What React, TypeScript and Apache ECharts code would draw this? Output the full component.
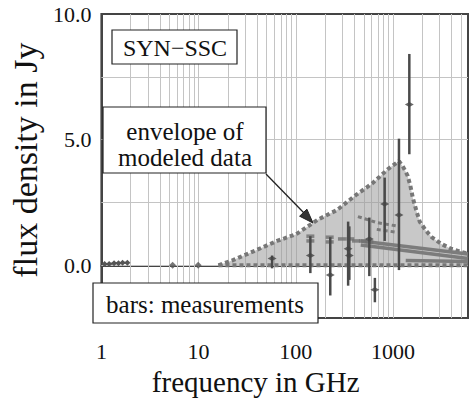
import React, { useEffect, useRef } from "react";
import * as echarts from "echarts";

// Envelope of modeled data (upper boundary); lower boundary lies at 0
const envFreq = [16, 22, 38, 64, 101, 169, 265, 416, 612, 894, 1150, 1285, 1410, 1504, 1600, 1750, 1880, 2200, 2500, 3150, 3950, 4960, 5900];
const envFlux = [0, 0.19, 0.58, 0.97, 1.24, 1.82, 2.2, 2.8, 3.26, 3.84, 4.15, 3.88, 3.57, 3.18, 2.67, 2.13, 1.74, 1.36, 1.12, 0.85, 0.66, 0.54, 0.47];
const envLowFreq = [16, 5900];
const envLowFlux = [0, 0];

// Measurements with error bars
const measFreq = [57, 141, 226, 345, 355, 570, 650, 820, 1150, 1470];
const measFlux = [0.27, 0.39, -0.39, 0.66, 0.39, 1.05, -0.97, 2.44, 2.0, 6.4];
const measLow = [-0.12, -0.31, -1.2, -0.81, -0.58, -0.43, -1.47, 0.97, -0.19, 4.42];
const measHigh = [0.39, 1.16, 1.12, 1.74, 1.55, 1.9, -0.5, 3.49, 5.04, 8.41];

// Low-frequency measurements (no visible bars)
const lowFreq = [1.08, 1.2, 1.35, 1.5, 1.65, 1.85];
const lowFlux = [0.05, 0.05, 0.08, 0.08, 0.1, 0.1];
const singleFreq = [5.4, 9.9];
const singleFlux = [0.0, 0.0];

// Model points (dash markers) inside the envelope
const modelPtFreq = [141, 141, 223, 223, 298, 363, 416, 490, 570];
const modelPtFlux = [1.16, 0.97, 1.12, 0.93, 1.05, 1.05, 0.97, 0.97, 0.93];

// Individual model curves
const modelAFreq = [435, 680, 1150];
const modelAFlux = [1.94, 1.7, 1.55];
const modelBFreq = [680, 1070];
const modelBFlux = [1.43, 1.32];
const modelCFreq = [465, 5900];
const modelCFlux = [0.97, 0.45];
const modelDFreq = [465, 5900];
const modelDFlux = [0.81, 0.27];
const modelEFreq = [1350, 5900];
const modelEFlux = [0.19, 0.15];

const yTickLabels = [0, 5, 10];
const yGrid = [0, 2.5, 5, 7.5];
const decades = [1, 10, 100, 1000];

const FONT = "Liberation Serif";

const zip = (a: number[], b: number[]) => a.map((v, i) => [v, b[i]]);

export default function App() {
  const ref = useRef<HTMLDivElement>(null);
  useEffect(() => {
    if (!ref.current) return;
    const chart = echarts.init(ref.current, null, { renderer: "svg" });

    const xGrid: number[] = [];
    decades.forEach((d) => {
      for (let k = 1; k <= 9; k++) {
        const v = k * d;
        if (v > 1 && v < 5900) xGrid.push(v);
      }
    });

    const dotted = { color: "#777777", width: 4, type: [4, 3] as any, cap: "butt" as any };

    const option: any = {
      animation: false,
      backgroundColor: "#ffffff",
      textStyle: { fontFamily: FONT },
      grid: {
        left: 84,
        right: 0,
        top: 14,
        bottom: 75,
        show: true,
        borderColor: "#444444",
        borderWidth: 2,
        backgroundColor: "transparent",
      },
      xAxis: {
        type: "log",
        min: 1,
        max: 5900,
        logBase: 10,
        name: "frequency in GHz",
        nameLocation: "middle",
        nameGap: 47,
        nameTextStyle: { fontFamily: FONT, fontSize: 29, color: "#111", padding: [0, 58, 0, 0] },
        axisLine: { show: true, lineStyle: { color: "#444", width: 2 } },
        axisTick: { show: false },
        splitLine: { show: false },
        axisLabel: {
          margin: 22,
          fontFamily: FONT,
          fontSize: 22,
          color: "#111",
          formatter: (v: number) => {
            const l = Math.log10(v);
            return Math.abs(l - Math.round(l)) < 1e-6 ? String(Math.round(v)) : "";
          },
        },
      },
      yAxis: {
        type: "value",
        min: -2.1,
        max: 10,
        name: "flux density in Jy",
        nameLocation: "middle",
        nameGap: 43,
        nameTextStyle: { fontFamily: FONT, fontSize: 34, color: "#111", padding: [0, 0, 0, 12] },
        axisLine: { show: true, lineStyle: { color: "#444", width: 2 } },
        axisTick: { show: false },
        splitLine: { show: false },
        axisLabel: {
          customValues: yTickLabels,
          margin: 10,
          fontFamily: FONT,
          fontSize: 22,
          color: "#111",
          formatter: (v: number) => v.toFixed(1),
        },
      },
      series: [
        {
          type: "line",
          data: [[16, 0]],
          symbol: "none",
          lineStyle: { opacity: 0 },
          silent: true,
          z: 1,
          markLine: {
            silent: true,
            symbol: "none",
            z: 1,
            label: { show: false },
            lineStyle: { color: "#c4c4c4", width: 1, type: "solid" },
            data: [
              ...xGrid.map((v) => ({ xAxis: v })),
              ...yGrid.map((v) => ({ yAxis: v })),
            ],
          },
        },
        {
          type: "line",
          data: zip(envFreq, envFlux),
          symbol: "none",
          lineStyle: dotted,
          areaStyle: { color: "#9a9a9a", opacity: 0.55 },
          z: 3,
        },
        {
          type: "line",
          data: zip(envLowFreq, envLowFlux),
          symbol: "none",
          lineStyle: dotted,
          z: 4,
        },
        {
          type: "line",
          data: zip(modelAFreq, modelAFlux),
          symbol: "none",
          lineStyle: { color: "#7a7a7a", width: 3, type: [4, 3] },
          z: 4,
        },
        {
          type: "line",
          data: zip(modelBFreq, modelBFlux),
          symbol: "none",
          lineStyle: { color: "#7a7a7a", width: 3, type: [4, 3] },
          z: 4,
        },
        ...[
          [modelCFreq, modelCFlux],
          [modelDFreq, modelDFlux],
          [modelEFreq, modelEFlux],
        ].map(([f, v]) => ({
          type: "line",
          data: zip(f, v),
          symbol: "none",
          lineStyle: { color: "#7c7c7c", width: 3.5 },
          z: 4,
        })),
        {
          type: "scatter",
          data: zip(modelPtFreq, modelPtFlux),
          symbol: "rect",
          symbolSize: [8, 3.5],
          itemStyle: { color: "#6f6f6f" },
          z: 5,
        },
        {
          type: "custom",
          data: measFreq.map((f, i) => [f, measLow[i], measHigh[i]]),
          encode: { x: 0, y: [1, 2] },
          z: 6,
          renderItem: (params: any, api: any) => {
            const x = api.value(0);
            const p1 = api.coord([x, api.value(1)]);
            const p2 = api.coord([x, api.value(2)]);
            return {
              type: "line",
              shape: { x1: p1[0], y1: p1[1], x2: p2[0], y2: p2[1] },
              style: { stroke: "#4a4a4a", lineWidth: 2.5 },
            };
          },
        },
        {
          type: "scatter",
          data: zip(measFreq, measFlux),
          symbol: "diamond",
          symbolSize: [9, 5],
          itemStyle: { color: "#444444" },
          z: 7,
        },
        {
          type: "line",
          data: zip(lowFreq, lowFlux),
          symbol: "diamond",
          symbolSize: 6,
          showSymbol: true,
          itemStyle: { color: "#555555" },
          lineStyle: { color: "#555555", width: 2 },
          z: 7,
        },
        {
          type: "scatter",
          data: zip(singleFreq, singleFlux),
          symbol: "diamond",
          symbolSize: 7,
          itemStyle: { color: "#555555" },
          z: 7,
        },
      ],
      graphic: [
        {
          type: "rect",
          shape: { x: 112, y: 30, width: 125, height: 34 },
          style: { fill: "#ffffff", stroke: "#222", lineWidth: 1.2 },
          z: 100,
        },
        {
          type: "text",
          style: {
            text: "SYN\u2212SSC",
            x: 175,
            y: 48,
            align: "center",
            verticalAlign: "middle",
            fontFamily: FONT,
            fontSize: 24,
            fill: "#111",
          },
          z: 101,
        },
        {
          type: "rect",
          shape: { x: 103, y: 107, width: 163, height: 66 },
          style: { fill: "#ffffff", stroke: "#222", lineWidth: 1.2 },
          z: 100,
        },
        {
          type: "text",
          style: {
            text: "envelope of",
            x: 185,
            y: 131,
            align: "center",
            verticalAlign: "middle",
            fontFamily: FONT,
            fontSize: 25,
            fill: "#111",
          },
          z: 101,
        },
        {
          type: "text",
          style: {
            text: "modeled data",
            x: 185,
            y: 157,
            align: "center",
            verticalAlign: "middle",
            fontFamily: FONT,
            fontSize: 25,
            fill: "#111",
          },
          z: 101,
        },
        {
          type: "line",
          shape: { x1: 266, y1: 174, x2: 304, y2: 213 },
          style: { stroke: "#222", lineWidth: 1.3 },
          z: 100,
        },
        {
          type: "polygon",
          shape: { points: [[313, 223], [299.6, 216.2], [306.9, 209.2]] },
          style: { fill: "#333", stroke: "#222", lineWidth: 1 },
          z: 100,
        },
        {
          type: "rect",
          shape: { x: 93, y: 283, width: 225, height: 40 },
          style: { fill: "#ffffff", stroke: "#222", lineWidth: 1.2 },
          z: 100,
        },
        {
          type: "text",
          style: {
            text: "bars: measurements",
            x: 205,
            y: 304,
            align: "center",
            verticalAlign: "middle",
            fontFamily: FONT,
            fontSize: 25,
            fill: "#111",
          },
          z: 101,
        },
      ],
    };
    chart.setOption(option);
    return () => chart.dispose();
  }, []);
  return <div ref={ref} style={{ width: 471, height: 401, position: "absolute", left: 0, top: 0 }} />;
}
